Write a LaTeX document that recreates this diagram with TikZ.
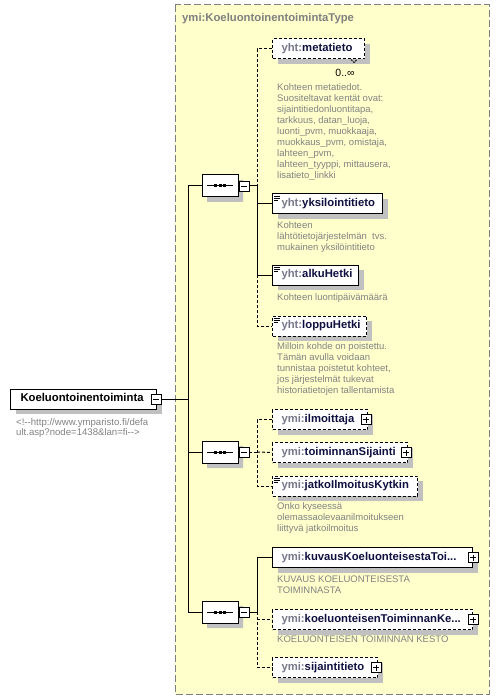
\documentclass[tikz,border=0pt]{standalone}
\usepackage{fontspec}
\setmainfont{Liberation Sans}
\usetikzlibrary{shapes.misc,shadows}
\definecolor{bgyellow}{RGB}{255,255,204}
\definecolor{bordergray}{RGB}{128,128,128}
\definecolor{shadowgray}{RGB}{192,192,192}
\definecolor{prefcol}{RGB}{120,120,140}
\definecolor{namecol}{RGB}{16,16,64}
\definecolor{desccol}{RGB}{130,130,130}
\newcommand\xsdelem[7]{\node[#7, minimum width=#4pt, text width=#4pt] (#1) at (#2,#3) {\hspace*{9pt}\textcolor{prefcol}{#5:}\textcolor{namecol}{#6}};}
\newcommand\xsdicon[1]{\draw[line width=0.7pt] ([shift={(2,2.5)}]#1.north west) -- ++(6,0) ([shift={(2,4.5)}]#1.north west) -- ++(6,0) ([shift={(2,6.5)}]#1.north west) -- ++(4,0);}
\newcommand\xsdplus[2]{\node[pmbox] (#1p) at ([xshift=#2pt]#1.east) {};
  \draw[line width=0.8pt] ([xshift=-3pt]#1p.center) -- ([xshift=3pt]#1p.center) ([yshift=-3pt]#1p.center) -- ([yshift=3pt]#1p.center);}
\newcommand\xsdseq[3]{\node[seqbox] (#1) at (#2,#3) {};
  \draw[line width=1pt] ([xshift=-13pt]#1.center) -- ([xshift=13pt]#1.center);
  \foreach \dx in {-4.5,0,4.5} \fill ([shift={(\dx-1.5,-1.5)}]#1.center) rectangle ++(3,3);
  \node[pmbox, anchor=west] (#1m) at (#1.east) {};
  \draw[line width=0.8pt] ([xshift=-3pt]#1m.center) -- ([xshift=3pt]#1m.center);}
\begin{document}
\begin{tikzpicture}[x=1pt,y=-1pt,
  conn/.style={line width=1pt, black},
  optconn/.style={conn, dash pattern=on 3pt off 2pt},
  elbox/.style={draw=black, fill=white, line width=1pt, minimum height=20pt, inner sep=0pt, anchor=west, align=left, text height=8.2pt, text depth=2.4pt, font=\bfseries\fontsize{11.3}{13}\selectfont, drop shadow={shadow xshift=5pt, shadow yshift=-5pt, fill=shadowgray, opacity=1}},
  optbox/.style={elbox, dash pattern=on 3pt off 2pt},
  pmbox/.style={draw=black, fill=white, line width=0.8pt, minimum size=10pt, inner sep=0pt},
  seqbox/.style={chamfered rectangle, chamfered rectangle sep=5pt, draw=black, fill=white, line width=1pt, minimum width=36pt, minimum height=22pt, inner sep=0pt, drop shadow={shadow xshift=5pt, shadow yshift=-5pt, fill=shadowgray, opacity=1}},
  desc/.style={anchor=north west, inner sep=0pt, align=left, text=desccol, font=\fontsize{9.5}{11}\selectfont},
]
\useasboundingbox (0,0) rectangle (500,700);
\fill[white] (0,0) rectangle (500,700);
\draw[bordergray, fill=bgyellow, dash pattern=on 7pt off 3pt, line width=1pt] (175,5) rectangle (489,694);
\node[anchor=west, inner sep=0pt, text=bordergray, font=\bfseries\fontsize{11.3}{13}\selectfont] (title) at (182,19) {ymi:KoeluontoinentoimintaType};

% main element
\node[elbox, minimum width=146pt, text width=146pt] (main) at (10,399) {\hspace*{10pt}Koeluontoinentoiminta};
\node[pmbox] (mainm) at (156,399) {};
\draw[line width=0.8pt] ([xshift=-3pt]mainm.center) -- ([xshift=3pt]mainm.center);
\node[desc, font=\fontsize{9.6}{10}\selectfont] (comment) at (16,418.5) {<!-{}-http://www.ymparisto.fi/defa\\ult.asp?node=1438\&lan=fi-{}->};

% sequences
\xsdseq{seqa}{220}{186}
\xsdseq{seqb}{220}{452}
\xsdseq{seqc}{220}{612}

% trunk
\coordinate (ta) at (188,186);
\coordinate (tc) at (188,612);
\draw[conn] (ta) -- (tc);
\draw[conn] (mainm.east) -- (mainm.east -| ta);
\draw[conn] (ta) -- (seqa.west);
\draw[conn] (mainm.east -| ta) -- (seqb.west -| ta) -- (seqb.west);
\draw[conn] (tc) -- (seqc.west);

% elements of sequence a
\xsdelem{meta}{272}{49}{92}{yht}{metatieto}{optbox}
\draw[line width=0.8pt, dash pattern=on 2pt off 1pt] ([xshift=-14pt]meta.south east) -- ++(3,3) -- ++(3,-3);
\node[inner sep=0pt, font=\fontsize{10.5}{12}\selectfont] (metamult) at (345,73) {0..∞};
\xsdelem{yks}{272}{204}{110}{yht}{yksilointitieto}{elbox}
\xsdicon{yks}
\xsdelem{alku}{272}{275}{86}{yht}{alkuHetki}{elbox}
\xsdicon{alku}
\xsdelem{loppu}{272}{326}{94}{yht}{loppuHetki}{optbox}
\xsdicon{loppu}

\coordinate (ba) at (257,186);
\draw[conn] (seqam.east) -- (ba);
\draw[optconn] (meta.west) -- (meta.west -| ba) -- (ba);
\draw[conn] (ba) -- (alku.west -| ba);
\draw[conn] (yks.west -| ba) -- (yks.west);
\draw[conn] (alku.west -| ba) -- (alku.west);
\draw[optconn] (alku.west -| ba) -- (loppu.west -| ba) -- (loppu.west);

\node[desc] (dmeta) at (277,83.5) {Kohteen metatiedot.\\Suositeltavat kentät ovat:\\sijaintitiedonluontitapa,\\tarkkuus, datan\_luoja,\\luonti\_pvm, muokkaaja,\\muokkaus\_pvm, omistaja,\\lahteen\_pvm,\\lahteen\_tyyppi, mittausera,\\lisatieto\_linkki};
\node[desc] (dyks) at (277,221.5) {Kohteen\\lähtötietojärjestelmän~ tvs.\\mukainen yksilöintitieto};
\node[desc] (dalku) at (277,293.5) {Kohteen luontipäivämäärä};
\node[desc] (dloppu) at (277,342.5) {Milloin kohde on poistettu.\\Tämän avulla voidaan\\tunnistaa poistetut kohteet,\\jos järjestelmät tukevat\\historiatietojen tallentamista};

% elements of sequence b
\xsdelem{ilm}{272}{419.5}{95}{ymi}{ilmoittaja}{optbox}
\xsdplus{ilm}{-2}
\xsdelem{tsij}{272}{452.5}{135}{ymi}{toiminnanSijainti}{optbox}
\xsdplus{tsij}{-2}
\xsdelem{jatko}{272}{486}{145}{ymi}{jatkoIlmoitusKytkin}{optbox}
\xsdicon{jatko}
\coordinate (bb) at (257,452);
\draw[optconn] (seqbm.east) -- (bb);
\draw[optconn] (ilm.west) -- (ilm.west -| bb) -- (jatko.west -| bb) -- (jatko.west);
\draw[optconn] (bb) -- (tsij.west);
\node[desc] (djatko) at (277,502.5) {Onko kyseessä\\olemassaolevaanilmoitukseen\\liittyvä jatkoilmoitus};

% elements of sequence c
\xsdelem{kuv}{272}{557.5}{200}{ymi}{kuvausKoeluonteisestaToi...}{elbox}
\xsdplus{kuv}{0}
\xsdelem{koel}{272}{619.5}{200}{ymi}{koeluonteisenToiminnanKe...}{optbox}
\xsdplus{koel}{0}
\xsdelem{sij}{272}{667.5}{105}{ymi}{sijaintitieto}{optbox}
\xsdplus{sij}{-2}
\coordinate (bc) at (257,612);
\draw[conn] (seqcm.east) -- (bc);
\draw[conn] (kuv.west) -- (kuv.west -| bc) -- (bc);
\draw[optconn] (bc) -- (sij.west -| bc) -- (sij.west);
\draw[optconn] (koel.west -| bc) -- (koel.west);
\node[desc] (dkuv) at (277,575.5) {KUVAUS KOELUONTEISESTA\\TOIMINNASTA};
\node[desc] (dkoel) at (277,635.5) {KOELUONTEISEN TOIMINNAN KESTO};
\end{tikzpicture}
\end{document}
